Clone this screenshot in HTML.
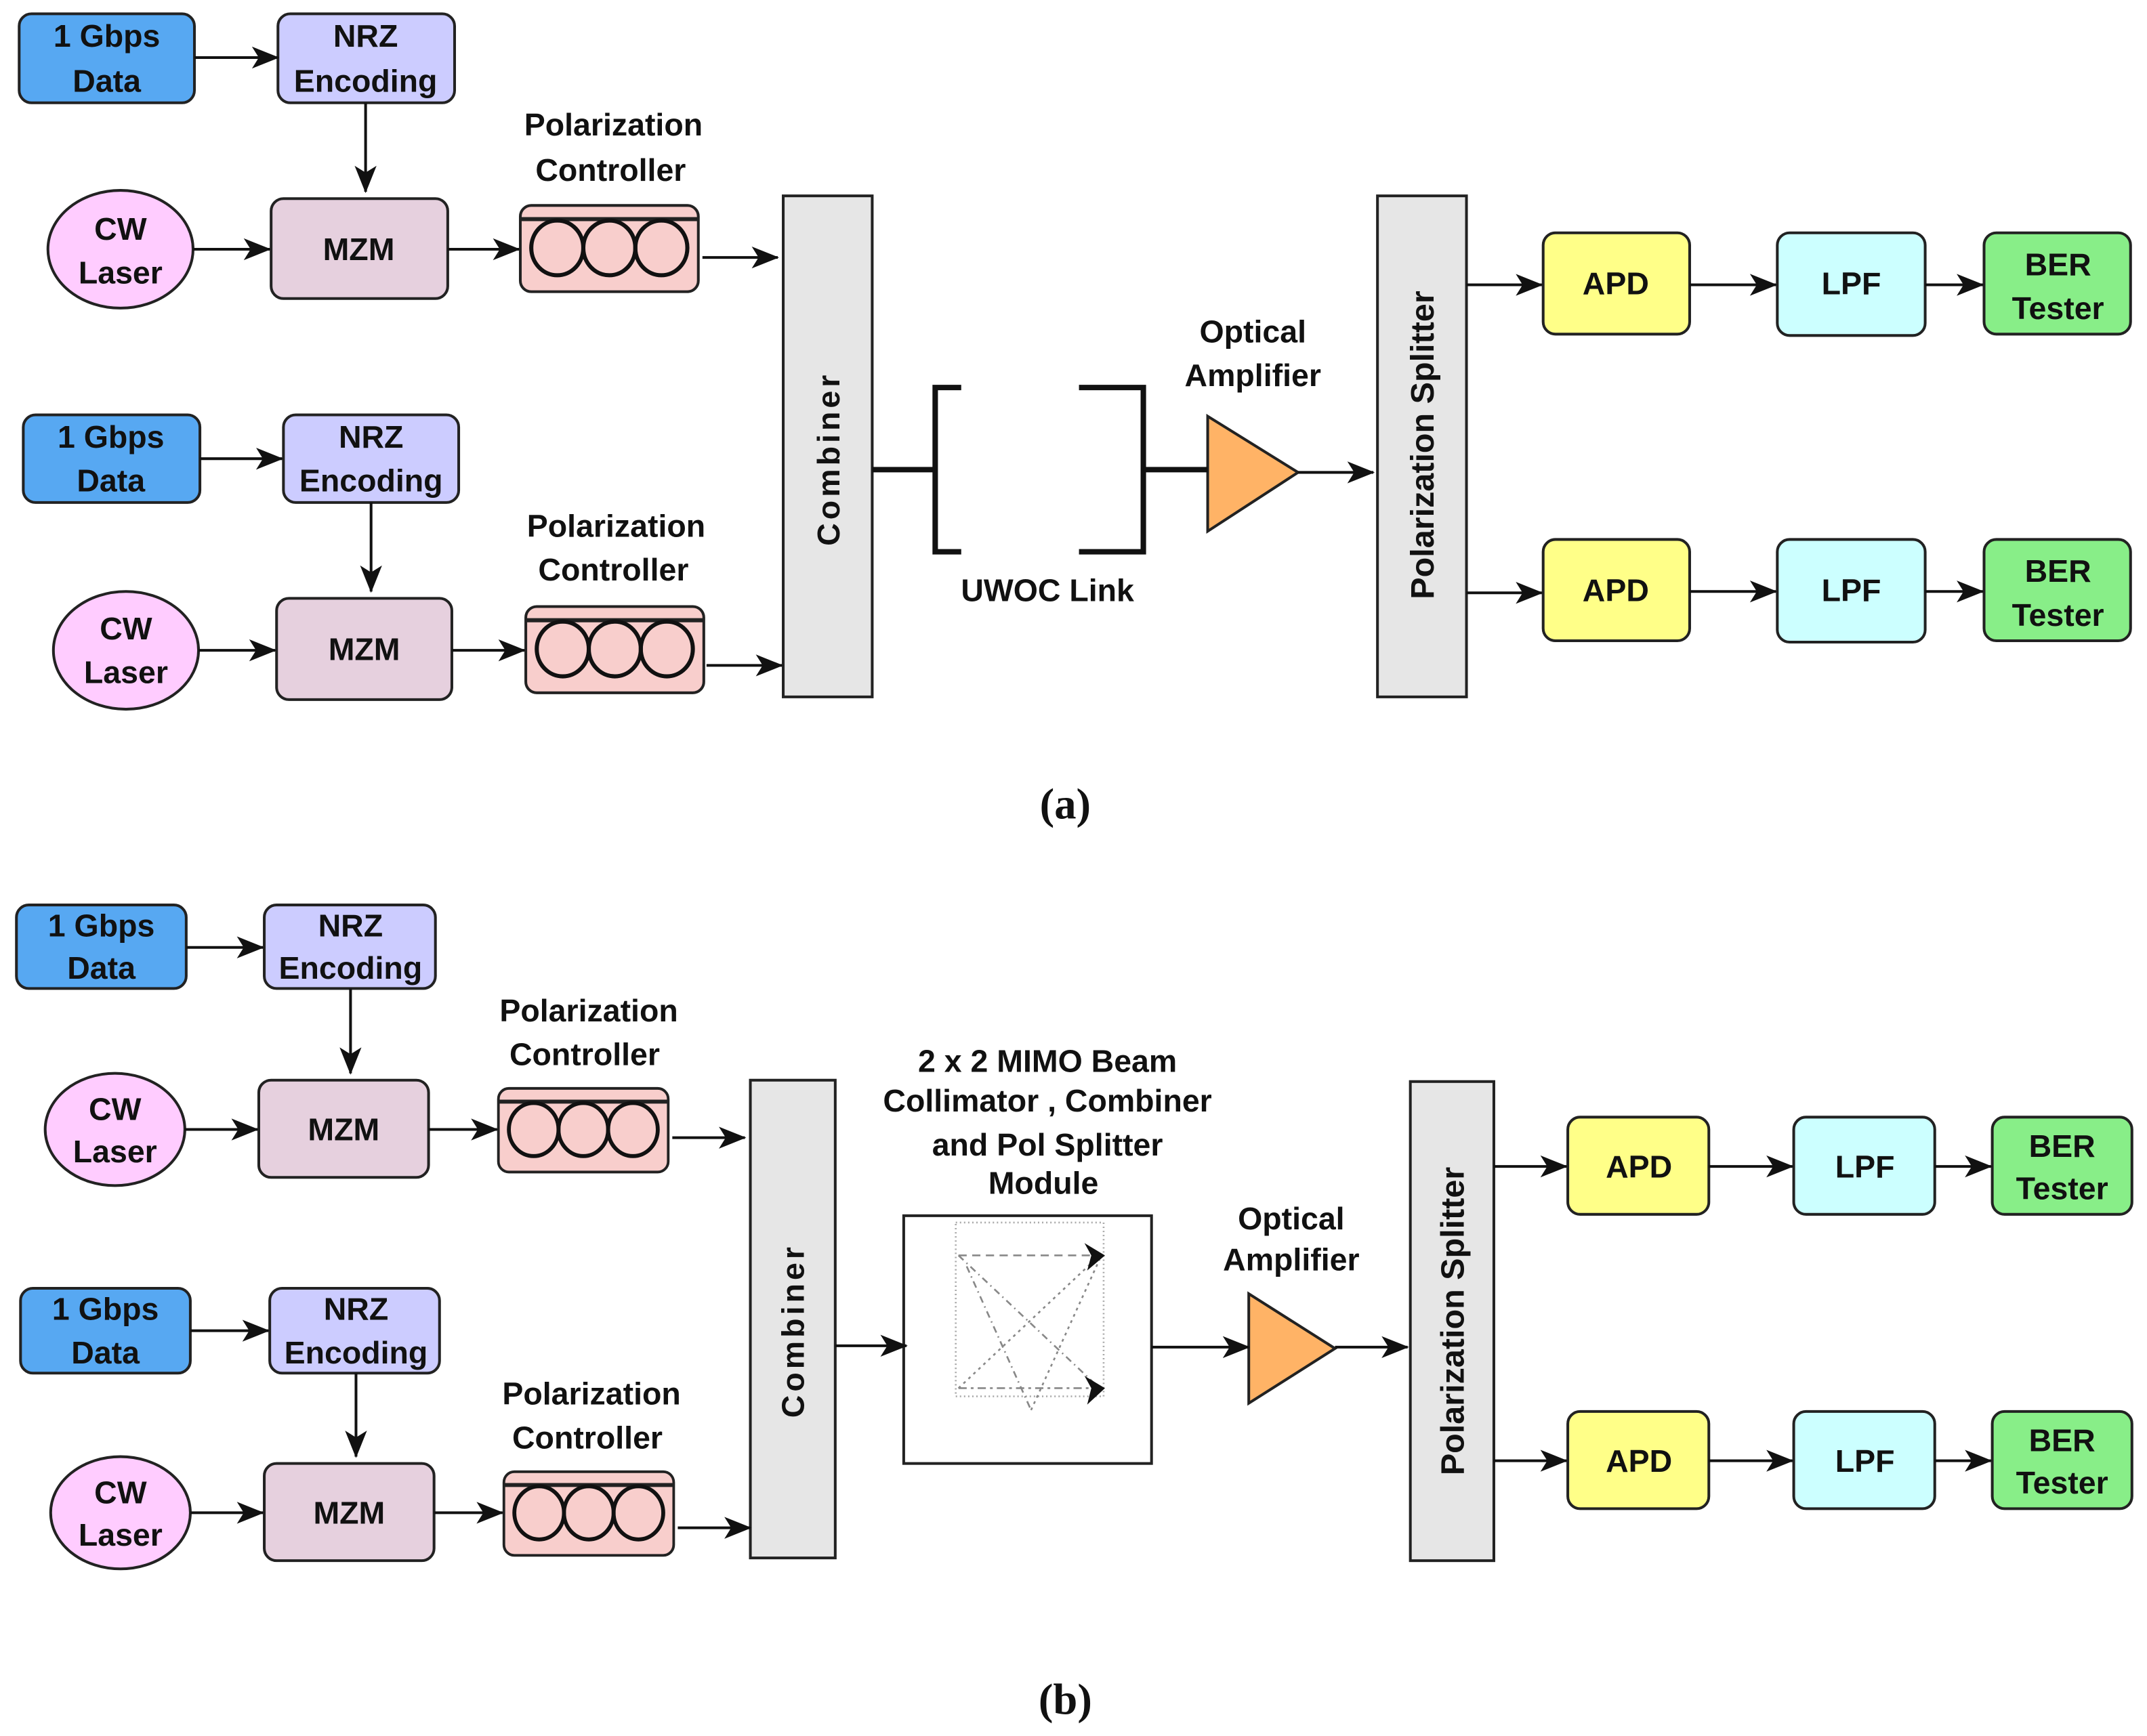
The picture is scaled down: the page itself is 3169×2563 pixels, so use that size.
<!DOCTYPE html>
<html><head><meta charset="utf-8"><style>
html,body{margin:0;padding:0;background:#fff}
svg{display:block}
text{font-family:"Liberation Sans",Arial,sans-serif;font-weight:bold;fill:#111;text-anchor:middle}
.s{font-family:"Liberation Serif",serif}
</style></head><body>
<svg width="3169" height="2563" viewBox="0 0 1568 1268" xmlns="http://www.w3.org/2000/svg">
<defs>
<marker id="a" viewBox="0 0 20 20" refX="19" refY="10" markerWidth="20" markerHeight="20" markerUnits="userSpaceOnUse" orient="auto">
<path d="M0,2 L20,10 L0,18 L5,10 Z" fill="#111"/></marker>
<g id="pc">
<rect x="0" y="0" width="130" height="63" rx="8" fill="#f8cecc" stroke="#222" stroke-width="2"/>
<line x1="0" y1="10" x2="130" y2="10" stroke="#222" stroke-width="3"/>
<ellipse cx="27" cy="31" rx="19" ry="20" fill="none" stroke="#111" stroke-width="3"/>
<ellipse cx="65" cy="31" rx="19" ry="20" fill="none" stroke="#111" stroke-width="3"/>
<ellipse cx="103" cy="31" rx="19" ry="20" fill="none" stroke="#111" stroke-width="3"/>
</g>
</defs>
<g stroke="#222" stroke-width="2">
<rect x="14" y="10" width="128" height="65" rx="9" fill="#57a8f2"/>
<rect x="203" y="10" width="129" height="65" rx="9" fill="#ccccff"/>
<ellipse cx="88" cy="182" rx="53" ry="43" fill="#ffccff"/>
<rect x="198" y="145" width="129" height="73" rx="9" fill="#e6d0de"/>
<rect x="17" y="303" width="129" height="64" rx="9" fill="#57a8f2"/>
<rect x="207" y="303" width="128" height="64" rx="9" fill="#ccccff"/>
<ellipse cx="92" cy="475" rx="53" ry="43" fill="#ffccff"/>
<rect x="202" y="437" width="128" height="74" rx="9" fill="#e6d0de"/>
<rect x="572" y="143" width="65" height="366" fill="#e6e6e6"/>
<rect x="1006" y="143" width="65" height="366" fill="#e6e6e6"/>
<polygon points="882,304 948,345 882,388" fill="#ffb366"/>
<rect x="1127" y="170" width="107" height="74" rx="9" fill="#ffff88"/>
<rect x="1298" y="170" width="108" height="75" rx="9" fill="#ccffff"/>
<rect x="1449" y="170" width="107" height="74" rx="9" fill="#88ee88"/>
<rect x="1127" y="394" width="107" height="74" rx="9" fill="#ffff88"/>
<rect x="1298" y="394" width="108" height="75" rx="9" fill="#ccffff"/>
<rect x="1449" y="394" width="107" height="74" rx="9" fill="#88ee88"/>
<rect x="12" y="661" width="124" height="61" rx="9" fill="#57a8f2"/>
<rect x="193" y="661" width="125" height="61" rx="9" fill="#ccccff"/>
<ellipse cx="84" cy="825" rx="51" ry="41" fill="#ffccff"/>
<rect x="189" y="789" width="124" height="71" rx="9" fill="#e6d0de"/>
<rect x="15" y="941" width="124" height="62" rx="9" fill="#57a8f2"/>
<rect x="197" y="941" width="124" height="62" rx="9" fill="#ccccff"/>
<ellipse cx="88" cy="1105" rx="51" ry="41" fill="#ffccff"/>
<rect x="193" y="1069" width="124" height="71" rx="9" fill="#e6d0de"/>
<rect x="548" y="789" width="62" height="349" fill="#e6e6e6"/>
<rect x="1030" y="790" width="61" height="350" fill="#e6e6e6"/>
<rect x="660" y="888" width="181" height="181" fill="#fff"/>
<polygon points="912,945 975,985 912,1025" fill="#ffb366"/>
<rect x="1145" y="816" width="103" height="71" rx="9" fill="#ffff88"/>
<rect x="1310" y="816" width="103" height="71" rx="9" fill="#ccffff"/>
<rect x="1455" y="816" width="102" height="71" rx="9" fill="#88ee88"/>
<rect x="1145" y="1031" width="103" height="71" rx="9" fill="#ffff88"/>
<rect x="1310" y="1031" width="103" height="71" rx="9" fill="#ccffff"/>
<rect x="1455" y="1031" width="102" height="71" rx="9" fill="#88ee88"/>
</g>
<use href="#pc" x="380" y="150"/>
<use href="#pc" x="384" y="443"/>
<use href="#pc" transform="translate(364,795) scale(0.954,0.97)"/>
<use href="#pc" transform="translate(368,1075) scale(0.954,0.97)"/>
<g stroke="#111" stroke-width="2" fill="none" marker-end="url(#a)">
<line x1="142" y1="42" x2="203" y2="42"/>
<line x1="267" y1="75" x2="267" y2="140"/>
<line x1="141" y1="182" x2="197" y2="182"/>
<line x1="327" y1="182" x2="379" y2="182"/>
<line x1="513" y1="188" x2="568" y2="188"/>
<line x1="146" y1="335" x2="206" y2="335"/>
<line x1="271" y1="367" x2="271" y2="432"/>
<line x1="145" y1="475" x2="201" y2="475"/>
<line x1="330" y1="475" x2="383" y2="475"/>
<line x1="516" y1="486" x2="571" y2="486"/>
<line x1="948" y1="345" x2="1003" y2="345"/>
<line x1="1071" y1="208" x2="1126" y2="208"/>
<line x1="1234" y1="208" x2="1297" y2="208"/>
<line x1="1406" y1="208" x2="1448" y2="208"/>
<line x1="1071" y1="433" x2="1126" y2="433"/>
<line x1="1234" y1="432" x2="1297" y2="432"/>
<line x1="1406" y1="432" x2="1448" y2="432"/>
<line x1="136" y1="692" x2="192" y2="692"/>
<line x1="256" y1="722" x2="256" y2="784"/>
<line x1="135" y1="825" x2="188" y2="825"/>
<line x1="313" y1="825" x2="363" y2="825"/>
<line x1="491" y1="831" x2="544" y2="831"/>
<line x1="139" y1="972" x2="196" y2="972"/>
<line x1="260" y1="1003" x2="260" y2="1064"/>
<line x1="139" y1="1105" x2="192" y2="1105"/>
<line x1="317" y1="1105" x2="367" y2="1105"/>
<line x1="495" y1="1116" x2="548" y2="1116"/>
<line x1="610" y1="983" x2="662" y2="983"/>
<line x1="841" y1="984" x2="912" y2="984"/>
<line x1="975" y1="984" x2="1028" y2="984"/>
<line x1="1091" y1="852" x2="1144" y2="852"/>
<line x1="1248" y1="852" x2="1309" y2="852"/>
<line x1="1413" y1="852" x2="1454" y2="852"/>
<line x1="1091" y1="1067" x2="1144" y2="1067"/>
<line x1="1248" y1="1067" x2="1309" y2="1067"/>
<line x1="1413" y1="1067" x2="1454" y2="1067"/>
</g>
<g stroke="#111" stroke-width="4" fill="none">
<line x1="637" y1="343" x2="683" y2="343"/>
<polyline points="702,283 683,283 683,403 702,403"/>
<polyline points="788,283 835,283 835,403 788,403"/>
<line x1="835" y1="343" x2="882" y2="343"/>
</g>
<g stroke="#888" stroke-width="1.3" fill="none">
<rect x="698" y="893" width="108" height="127" stroke-dasharray="1,2" stroke="#aaa"/>
<line x1="700" y1="917" x2="803" y2="917" stroke-dasharray="6,4"/>
<line x1="700" y1="1014" x2="803" y2="1014" stroke-dasharray="6,3,2,3"/>
<line x1="700" y1="917" x2="803" y2="1014" stroke-dasharray="5,3,1,3"/>
<line x1="700" y1="1014" x2="803" y2="917" stroke-dasharray="2,3"/>
<line x1="706" y1="925" x2="753" y2="1030" stroke-dasharray="5,3,1,3"/>
<line x1="753" y1="1030" x2="803" y2="920" stroke-dasharray="2,3"/>
</g>
<path d="M792,908 L807,917 L794,928 L797,917Z M792,1005 L807,1014 L794,1026 L797,1014Z" fill="#111"/>
<g font-size="23">
<text x="78" y="34">1 Gbps</text><text x="78" y="67">Data</text>
<text x="267" y="34">NRZ</text><text x="267" y="67">Encoding</text>
<text x="88" y="175">CW</text><text x="88" y="207">Laser</text>
<text x="262" y="190">MZM</text>
<text x="448" y="99">Polarization</text><text x="446" y="132">Controller</text>
<text x="81" y="327">1 Gbps</text><text x="81" y="359">Data</text>
<text x="271" y="327">NRZ</text><text x="271" y="359">Encoding</text>
<text x="92" y="467">CW</text><text x="92" y="499">Laser</text>
<text x="266" y="482">MZM</text>
<text x="450" y="392">Polarization</text><text x="448" y="424">Controller</text>
<text x="915" y="250">Optical</text><text x="915" y="282">Amplifier</text>
<text x="765" y="439">UWOC Link</text>
<text transform="translate(613,335) rotate(-90)" letter-spacing="2.5">Combiner</text>
<text transform="translate(1047,325) rotate(-90)" font-size="24">Polarization Splitter</text>
<text x="1180" y="215">APD</text><text x="1352" y="215">LPF</text>
<text x="1503" y="201">BER</text><text x="1503" y="233">Tester</text>
<text x="1180" y="439">APD</text><text x="1352" y="439">LPF</text>
<text x="1503" y="425">BER</text><text x="1503" y="457">Tester</text>
<text x="74" y="684">1 Gbps</text><text x="74" y="715">Data</text>
<text x="256" y="684">NRZ</text><text x="256" y="715">Encoding</text>
<text x="84" y="818">CW</text><text x="84" y="849">Laser</text>
<text x="251" y="833">MZM</text>
<text x="430" y="746">Polarization</text><text x="427" y="778">Controller</text>
<text x="77" y="964">1 Gbps</text><text x="77" y="996">Data</text>
<text x="260" y="964">NRZ</text><text x="260" y="996">Encoding</text>
<text x="88" y="1098">CW</text><text x="88" y="1129">Laser</text>
<text x="255" y="1113">MZM</text>
<text x="432" y="1026">Polarization</text><text x="429" y="1058">Controller</text>
<text x="765" y="783">2 x 2 MIMO Beam</text>
<text x="765" y="812">Collimator , Combiner</text>
<text x="765" y="844">and Pol Splitter</text>
<text x="762" y="872">Module</text>
<text x="943" y="898">Optical</text><text x="943" y="928">Amplifier</text>
<text transform="translate(587,972) rotate(-90)" letter-spacing="2.5">Combiner</text>
<text transform="translate(1069,965) rotate(-90)" font-size="24">Polarization Splitter</text>
<text x="1197" y="860">APD</text><text x="1362" y="860">LPF</text>
<text x="1506" y="845">BER</text><text x="1506" y="876">Tester</text>
<text x="1197" y="1075">APD</text><text x="1362" y="1075">LPF</text>
<text x="1506" y="1060">BER</text><text x="1506" y="1091">Tester</text>
</g>
<text class="s" x="778" y="598" font-size="32" font-weight="normal">(<tspan font-weight="bold">a</tspan>)</text>
<text class="s" x="778" y="1252" font-size="32" font-weight="normal">(<tspan font-weight="bold">b</tspan>)</text>
</svg>
</body></html>
